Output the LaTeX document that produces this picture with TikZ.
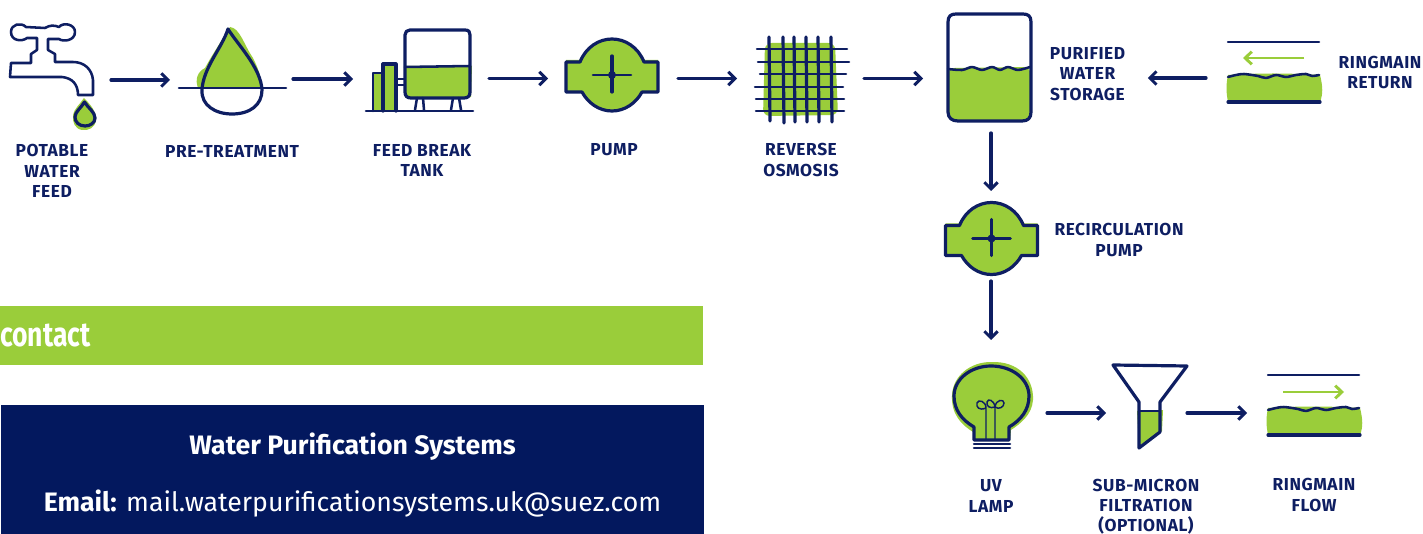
\documentclass[tikz,border=0pt]{standalone}
\usepackage{fontspec}
\setmainfont{Fira Sans}
\newfontfamily\dinfont[LetterSpace=3.2]{Fira Sans}
\newfontfamily\dinplain{Fira Sans}
\newfontfamily\dinnarrow[FakeStretch=0.78]{Fira Sans}
\usetikzlibrary{arrows.meta,fit}
\definecolor{navy}{RGB}{3,24,94}
\definecolor{linenavy}{RGB}{14,30,98}
\definecolor{leaf}{RGB}{154,205,58}
\tikzset{
  iconbox/.style={inner sep=0pt,outer sep=0pt},
  flow/.style={draw=linenavy,line width=2.4pt,line cap=round,-{Straight Barb[length=5pt,width=10pt,line width=2.2pt]}},
  greenflow/.style={draw=leaf,line width=2.2pt,-{Straight Barb[length=5pt,width=9.5pt,line width=2.2pt]}},
  outline/.style={draw=linenavy,line width=2.4pt,line join=round,line cap=round},
  slimline/.style={draw=linenavy,line width=1.9pt,line join=round,line cap=round},
  thinline/.style={draw=linenavy,line width=1.1pt},
  blob/.style={fill=leaf,draw=none},
  lbl/.style={inner sep=0pt,align=center,text=linenavy,font=\dinfont\bfseries\fontsize{13}{15.2}\selectfont},
  pumpicon/.pic={
    \path[blob] (-46,-15) -- (46,-15) -- (47,18) -- (-46,17) -- cycle;
    \draw[outline,fill=leaf] (-46,-13) -- (-32,-13) .. controls (-26,-28) and (-13,-36) .. (0,-36) .. controls (13,-36) and (26,-28) .. (32,-13) -- (46,-13) -- (46,17) -- (30,17) .. controls (24,28) and (13,36) .. (0,36) .. controls (-13,36) and (-24,28) .. (-30,17) -- (-46,17) -- cycle;
    \draw[outline] (0,-19) -- (0,17);
    \draw[slimline] (-19,0) -- (19,0);
    \fill[linenavy] (0,0) circle (4);
  },
  ringicon/.pic={
    \path[blob] (0,33) .. controls (30,31) and (60,31) .. (92,33) .. controls (95,45) and (95,52) .. (92,60) -- (0,60) .. controls (-2,50) and (-2,42) .. (0,33) -- cycle;
    \draw[slimline] (0,0) -- (91,0);
    \draw[slimline] plot[smooth] coordinates {(0,35) (8,33) (16,32) (30,34) (38,36) (48,33) (58,35) (68,33) (78,32) (84,34) (91,33)};
    \draw[outline] (0,60) -- (92,60);
  }
}
\begin{document}
\begin{tikzpicture}[x=0.75pt,y=0.75pt,yscale=-1,xscale=1]
\useasboundingbox (0,0) rectangle (1423,534);

%Shape: Contact bar
\path[blob] (0,306) rectangle (703,365);
\node[inner sep=0pt,anchor=west,text=white,font=\dinnarrow\bfseries\fontsize{25.5}{25.5}\selectfont] (contact) at (0,336) {contact};
%Shape: Address box
\fill[navy] (1,405) rectangle (704,534);
\node[inner sep=0pt,text=white,font=\dinplain\bfseries\fontsize{20}{20}\selectfont] (company) at (352.5,446.5) {Water Purification Systems};
\node[inner sep=0pt,text=white,font=\dinplain\fontsize{20}{20}\selectfont] (email) at (352.5,503.5) {\textbf{Email:} mail.waterpurificationsystems.uk@suez.com};

%Shape: Tap
\draw[slimline] (10,77) -- (62,77) .. controls (72,78) and (78,84) .. (78,95) -- (93,95) -- (93,80) .. controls (92,69) and (84,62) .. (73,62) -- (55,62) -- (55,54) -- (48,50) -- (48,39) -- (59,39) .. controls (63,42) and (75,41) .. (75,32) .. controls (75,24) and (63,22) .. (59,27) .. controls (54,25) and (50,25) .. (45,28) -- (26,27) .. controls (21,22) and (11,24) .. (11,32) .. controls (11,41) and (22,42) .. (27,38) -- (37,38) -- (37,50) -- (31,54) -- (31,63) -- (11,63) -- cycle;
%Shape: Tap drop
\path[blob] (84,98) .. controls (90,104) and (97,112) .. (96,120) .. controls (95,128) and (88,131) .. (82,130) .. controls (75,129) and (72,122) .. (73,115) .. controls (74,109) and (80,104) .. (84,98) -- cycle;
\draw[outline] (84.5,102) .. controls (88,108) and (95,112) .. (95,118) .. controls (95,123) and (90,126) .. (85,126) .. controls (79,126) and (75,122) .. (75,117) .. controls (75,112) and (81,108) .. (84.5,102) -- cycle;

%Shape: Pre-treatment drop
\path[blob] (230,27) .. controls (240,28) and (244,45) .. (253,58) .. controls (258,68) and (262,78) .. (261,88) -- (198,88) .. controls (195,80) and (197,72) .. (205,68) .. controls (212,55) and (222,40) .. (230,27) -- cycle;
\draw[outline] (228,29) .. controls (222,48) and (203,68) .. (202,90) .. controls (201,105) and (215,114) .. (232,114) .. controls (250,114) and (262,105) .. (262,90) .. controls (261,68) and (238,45) .. (228,29) -- cycle;
\draw[slimline] (179,88) -- (286,88);

%Shape: Feed break tank
\path[blob] (405,66) -- (472,66) -- (471,97) -- (405,98) -- cycle;
\path[blob] (373,73) -- (383,73) -- (383,63) -- (396,62) -- (396,111) -- (373,112) -- cycle;
\draw[outline] (410,30) -- (465,30) .. controls (469,30) and (470,32) .. (470,35) -- (470,92) .. controls (470,96) and (468,98) .. (464,98) -- (411,98) .. controls (407,98) and (405,96) .. (405,92) -- (405,35) .. controls (405,32) and (407,30) .. (410,30) -- cycle;
\draw[slimline] (405,67) -- (470,66);
\draw[slimline] (373,111) -- (373,73) -- (383,73);
\draw[outline] (383,111) -- (383,64) -- (396,64) -- (396,111);
\draw[slimline] (396,79) -- (404,79) (396,85) -- (404,85);
\draw[slimline] (417,98) -- (415,110) (423,98) -- (424,110) (453,98) -- (451,110) (459,98) -- (461,110);
\draw[slimline] (366,111) -- (473,111);

%Shape: Pumps
\pic[yscale=-1] at (612,75) {pumpicon};
\pic[yscale=-1] at (991.5,238.5) {pumpicon};

%Shape: Reverse osmosis membrane
\path[blob,rounded corners=5] (765,43) -- (835,43) -- (838,115) -- (763,116) -- cycle;
\foreach \mx/\mb in {769/121,783/123,794/122,806/122,818/122,831/122}
  \draw[outline] (\mx,37) -- (\mx+1,\mb);
\foreach \my/\ml/\mr in {49/757/847,62/758/849,74/760/846,87/755/843,99/756/844,111/756/844}
  \draw[slimline] (\ml,\my) -- (\mr,\my);

%Shape: Purified water storage
\path[blob,rounded corners=6] (947,68) -- (1031,67) -- (1031,122) -- (948,122) -- cycle;
\draw[outline] (956,14) -- (1023,14) .. controls (1028,14) and (1031,16) .. (1031,22) -- (1031,112) .. controls (1031,118) and (1028,121) .. (1022,121) -- (958,121) .. controls (952,121) and (948,118) .. (948,112) -- (948,22) .. controls (948,16) and (951,14) .. (956,14) -- cycle;
\draw[slimline] plot[smooth] coordinates {(948,69) (962,70) (972,67) (982,70) (992,67) (1000,70) (1008,67) (1018,70) (1030,67)};

%Shape: Ringmain return and flow
\pic[yscale=-1] at (1228,42) {ringicon};
\pic[yscale=-1] at (1268,375) {ringicon};
\path[greenflow] (1304,58) -- (1243,58);
\path[greenflow] (1283,392) -- (1344,392);

%Shape: UV lamp
\path[blob] (991,362) .. controls (1018,361) and (1034,378) .. (1033,400) .. controls (1032,415) and (1020,424) .. (1011,430) -- (1010,441) -- (974,441) -- (973,432) .. controls (962,425) and (951,415) .. (952,395) .. controls (953,376) and (970,362) .. (991,362) -- cycle;
\draw[outline] (974,440) -- (974,427) .. controls (962,420) and (954,410) .. (954,396) .. controls (954,379) and (971,366) .. (991,366) .. controls (1012,366) and (1029,379) .. (1029,396) .. controls (1029,410) and (1021,420) .. (1009,427) -- (1009,440) -- cycle;
\draw[slimline] (974,444) -- (1010,444) (974,448) -- (1010,448);
\draw[thinline] (986,440) -- (986,408) .. controls (979,411) and (976,407) .. (977,403) .. controls (978,399) and (986,401) .. (986,408);
\draw[thinline] (995,440) -- (995,407) .. controls (990,409) and (986,406) .. (987,402) .. controls (988,398) and (994,400) .. (995,407);
\draw[thinline] (995,407) .. controls (999,410) and (1004,407) .. (1004,403) .. controls (1004,399) and (996,399) .. (995,407);

%Shape: Sub-micron filter
\path[blob] (1137,411) -- (1163,410) -- (1162,431) -- (1139,446) -- cycle;
\draw[outline] (1113,365) -- (1187,366) -- (1160,402) -- (1160,432) -- (1139,448) -- (1139,402) -- cycle;
\draw[thinline] (1139,411) -- (1160,411);

% Icon boxes
\node[iconbox,fit={(0,20) (111,140)}] (tap) {};
\node[iconbox,fit={(170,29) (293,129)}] (pretreat) {};
\node[iconbox,fit={(353,29) (489,128)}] (tank) {};
\node[iconbox,fit={(548,39) (678,118)}] (pump) {};
\node[iconbox,fit={(737,37) (864,120)}] (osmosis) {};
\node[iconbox,fit={(923,24) (1059,133)}] (storage) {};
\node[iconbox,fit={(1206,42) (1340,114)}] (ringreturn) {};
\node[iconbox,fit={(945,191) (1037,281)}] (recirc) {};
\node[iconbox,fit={(935,340) (1047,486)}] (lamp) {};
\node[iconbox,fit={(1106,365) (1187,461)}] (filter) {};
\node[iconbox,fit={(1247,375) (1362,451)}] (ringflow) {};

% Text Node
\node[lbl] (lblfeed) at (52,171) {POTABLE\\WATER\\FEED};
\node[lbl] (lblpre) at (232,151.5) {PRE-TREATMENT};
\node[lbl] (lbltank) at (422,160.5) {FEED BREAK\\TANK};
\node[lbl] (lblpump) at (614,149.5) {PUMP};
\node[lbl] (lblosmosis) at (801,160) {REVERSE\\OSMOSIS};
\node[lbl,minimum width=90pt] (lblstorage) at (1087.5,74) {PURIFIED\\WATER\\STORAGE};
\node[lbl] (lblreturn) at (1380,72.5) {RINGMAIN\\RETURN};
\node[lbl] (lblrecirc) at (1119,240) {RECIRCULATION\\PUMP};
\node[lbl] (lbllamp) at (991,496) {UV\\LAMP};
\node[lbl] (lblfilter) at (1146,506.5) {SUB-MICRON\\FILTRATION\\(OPTIONAL)};
\node[lbl] (lblflow) at (1314,495) {RINGMAIN\\FLOW};

% Connectors
\draw[flow] (tap.east) -- (tap.east -| pretreat.west);
\draw[flow] (pretreat.east) -- (pretreat.east -| tank.west);
\draw[flow] (tank.east) -- (tank.east -| pump.west);
\draw[flow] (pump.east) -- (pump.east -| osmosis.west);
\draw[flow] (osmosis.east) -- (osmosis.east -| storage.west);
\draw[flow] (ringreturn.west) -- (ringreturn.west -| lblstorage.east);
\draw[flow] (storage.south) -- (storage.south |- recirc.north);
\draw[flow] (recirc.south) -- (recirc.south |- lamp.north);
\draw[flow] (lamp.east) -- (lamp.east -| filter.west);
\draw[flow] (filter.east) -- (filter.east -| ringflow.west);

\end{tikzpicture}
\end{document}
